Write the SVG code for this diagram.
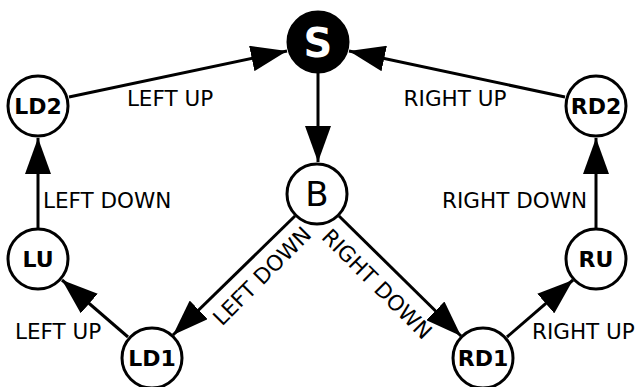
<svg xmlns="http://www.w3.org/2000/svg" width="635" height="387" viewBox="0 0 635 387">
<style>
.node circle{fill:#fff;stroke:#000;stroke-width:3}
.node text{font-family:"DejaVu Sans","Verdana",sans-serif;font-weight:bold;font-size:22px;text-anchor:middle;fill:#000}
.edge{stroke:#000;stroke-width:3;fill:none;marker-end:url(#ah)}
.lbl{font-family:"DejaVu Sans","Verdana",sans-serif;font-size:21.5px;fill:#000}
</style>
<defs>
<marker id="ah" viewBox="0 0 36 26" refX="36" refY="13" markerWidth="36" markerHeight="26" orient="auto" markerUnits="userSpaceOnUse">
<path d="M0,0 L36,13 L0,26 z" fill="#000"/>
</marker>
</defs>
<rect width="635" height="387" fill="#fff"/>
<g id="edges">
<line class="edge" x1="69" y1="97" x2="287" y2="51"/>
<line class="edge" x1="565" y1="97" x2="349" y2="51"/>
<line class="edge" x1="318" y1="72" x2="318" y2="162"/>
<line class="edge" x1="295" y1="216" x2="173" y2="335"/>
<line class="edge" x1="339" y1="216" x2="461" y2="336"/>
<line class="edge" x1="128" y1="337" x2="62" y2="280"/>
<line class="edge" x1="38" y1="228" x2="38" y2="138"/>
<line class="edge" x1="507" y1="337" x2="573" y2="280"/>
<line class="edge" x1="596" y1="228" x2="596" y2="138"/>
<text class="lbl" x="170" y="106" text-anchor="middle">LEFT UP</text>
<text class="lbl" x="455" y="106" text-anchor="middle">RIGHT UP</text>
<text class="lbl" x="43" y="208">LEFT DOWN</text>
<text class="lbl" x="587" y="208" text-anchor="end">RIGHT DOWN</text>
<text class="lbl" x="15" y="339">LEFT UP</text>
<text class="lbl" x="532" y="339">RIGHT UP</text>
<text class="lbl" x="262" y="276" text-anchor="middle" dominant-baseline="central" transform="rotate(-45 262 276)">LEFT DOWN</text>
<text class="lbl" x="377" y="284" text-anchor="middle" dominant-baseline="central" transform="rotate(45 377 284)">RIGHT DOWN</text>
</g>
<g id="S" class="node"><circle cx="318" cy="42" r="30" style="fill:#000"/><text x="318" y="57" style="fill:#fff;font-size:40px">S</text></g>
<g id="B" class="node"><circle cx="317" cy="194" r="30"/><text x="317" y="206" style="font-weight:normal;font-size:34px">B</text></g>
<g id="LD2" class="node"><circle cx="38" cy="106" r="30"/><text x="38" y="114">LD2</text></g>
<g id="LU" class="node"><circle cx="38" cy="259" r="30"/><text x="38" y="267">LU</text></g>
<g id="LD1" class="node"><circle cx="152" cy="358" r="30"/><text x="152" y="366">LD1</text></g>
<g id="RD1" class="node"><circle cx="483" cy="358" r="30"/><text x="483" y="366">RD1</text></g>
<g id="RU" class="node"><circle cx="596" cy="259" r="30"/><text x="596" y="267">RU</text></g>
<g id="RD2" class="node"><circle cx="596" cy="106" r="30"/><text x="596" y="114">RD2</text></g>
</svg>
